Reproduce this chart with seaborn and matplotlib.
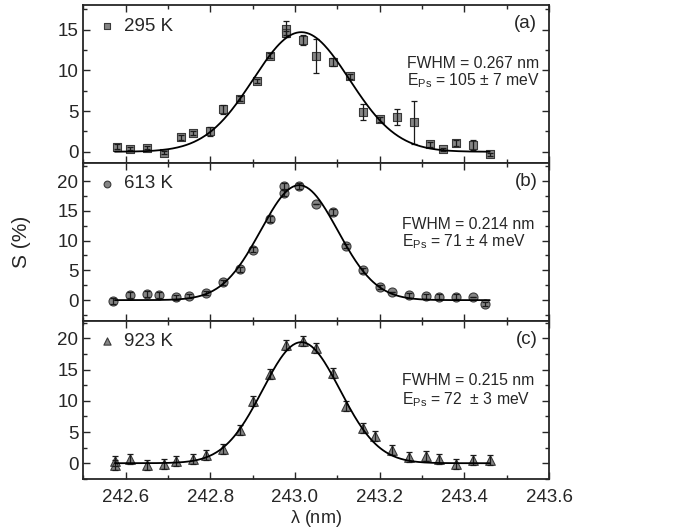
import numpy as np
import pandas as pd
import matplotlib
matplotlib.use("Agg")
import matplotlib.pyplot as plt
import seaborn as sns
from matplotlib.ticker import MultipleLocator

# Data
xa = [242.58, 242.61, 242.65, 242.69, 242.73, 242.76, 242.80, 242.83, 242.87, 242.91, 242.94, 242.98, 242.98,
      243.02, 243.05, 243.09, 243.13, 243.16, 243.20, 243.24, 243.28, 243.32, 243.35, 243.38, 243.42, 243.46]
ya = [0.6, 0.4, 0.5, -0.1, 1.8, 2.3, 2.5, 5.2, 6.5, 8.7, 11.8, 15.1, 14.6,
      13.7, 11.8, 11.0, 9.3, 4.85, 4.0, 4.3, 3.6, 0.9, 0.3, 1.1, 0.8, -0.3]
ea = [0.3, 0.2, 0.2, 0.2, 0.3, 0.2, 0.6, 0.5, 0.3, 0.3, 0.3, 1.0, 0.3,
      0.6, 2.1, 0.5, 0.3, 1.0, 0.3, 1.0, 2.7, 0.3, 0.2, 0.4, 0.6, 0.2]

xb = [242.57, 242.61, 242.65, 242.68, 242.72, 242.75, 242.79, 242.83, 242.87, 242.90, 242.94, 242.975, 242.975,
      243.01, 243.05, 243.09, 243.12, 243.16, 243.20, 243.23, 243.27, 243.31, 243.34, 243.38, 243.42, 243.45]
yb = [-0.1, 0.8, 1.0, 0.8, 0.45, 0.7, 1.2, 3.0, 5.2, 8.5, 13.7, 18.0, 19.2,
      19.1, 16.2, 14.8, 9.1, 5.0, 2.2, 1.4, 0.8, 0.65, 0.55, 0.6, 0.6, -0.65]
eb = [0.5, 0.5, 0.5, 0.5, 0.4, 0.4, 0.4, 0.4, 0.4, 0.5, 0.5, 0.5, 0.5,
      0.5, 0.0, 0.5, 0.4, 0.4, 0.4, 0.0, 0.4, 0.4, 0.4, 0.4, 0.0, 0.4]

xc = [242.575, 242.575, 242.61, 242.65, 242.69, 242.72, 242.76, 242.79, 242.83, 242.87, 242.90, 242.94, 242.98,
      243.02, 243.05, 243.09, 243.12, 243.16, 243.19, 243.23, 243.27, 243.31, 243.34, 243.38, 243.42, 243.46]
yc = [0.4, -0.3, 0.75, -0.3, -0.1, 0.3, 0.7, 1.25, 2.2, 5.25, 9.9, 14.3, 19.0,
      19.6, 18.4, 14.4, 9.1, 5.7, 4.3, 2.1, 1.0, 1.1, 0.65, -0.15, 0.45, 0.5]
ec = [0.8] * 26

# Gaussian fit parameters (centre, peak, FWHM)
fit_a = (243.015, 14.7, 0.267)
fit_b = (243.010, 19.3, 0.214)
fit_c = (243.015, 19.4, 0.215)

labels = ["295 K", "613 K", "923 K"]
tags = ["(a)", "(b)", "(c)"]
fwhm_txt = ["FWHM = 0.267 nm", "FWHM = 0.214 nm", "FWHM = 0.215 nm"]
eps_txt = [r"E$_{\mathregular{Ps}}$ = 105 $\pm$ 7 meV",
           r"E$_{\mathregular{Ps}}$ = 71 $\pm$ 4 meV",
           r"E$_{\mathregular{Ps}}$ = 72  $\pm$ 3 meV"]

sns.set_theme(style="ticks")
plt.rcParams["font.family"] = ["Liberation Sans", "DejaVu Sans"]
plt.rcParams["mathtext.fontset"] = "custom"
plt.rcParams["mathtext.rm"] = "Liberation Sans"
plt.rcParams["mathtext.default"] = "regular"

fig, axes = plt.subplots(3, 1, figsize=(6.82, 5.32), dpi=100, sharex=True)
fig.subplots_adjust(left=0.122, right=0.805, top=0.99, bottom=0.10, hspace=0)

panels = [(xa, ya, ea, fit_a, "s", (-1.4, 18), [0, 5, 10, 15], 38),
          (xb, yb, eb, fit_b, "o", (-3.5, 23), [0, 5, 10, 15, 20], 42),
          (xc, yc, ec, fit_c, "^", (-2.5, 22.8), [0, 5, 10, 15, 20], 48)]
text_y = [(0.63, 0.52), (0.61, 0.50), (0.62, 0.50)]
text_x = [0.695, 0.685, 0.685]

for i, (ax, (x, y, e, fit, mk, ylim, yt, ms)) in enumerate(zip(axes, panels)):
    df = pd.DataFrame({"x": x, "y": y, "e": e})
    c, amp, fw = fit
    sig = fw / (2 * np.sqrt(2 * np.log(2)))
    xf = np.linspace(242.575, 243.46, 300)
    fdf = pd.DataFrame({"x": xf, "y": amp * np.exp(-(xf - c) ** 2 / (2 * sig ** 2))})
    sns.scatterplot(data=df, x="x", y="y", marker=mk, s=ms, color="#858585",
                    edgecolor="#3a3a3a", linewidth=0.8, ax=ax, zorder=2, label=labels[i])
    ax.errorbar(df["x"], df["y"], yerr=df["e"], fmt="none", ecolor="#1a1a1a",
                elinewidth=0.9, capsize=2.5, capthick=0.9, zorder=3)
    sns.lineplot(data=fdf, x="x", y="y", color="black", linewidth=1.3, ax=ax, zorder=4, legend=False)
    ax.set_xlim(242.5, 243.6)
    ax.set_ylim(*ylim)
    ax.set_yticks(yt)
    ax.xaxis.set_major_locator(MultipleLocator(0.2))
    ax.xaxis.set_minor_locator(MultipleLocator(0.1))
    ax.yaxis.set_minor_locator(MultipleLocator(2.5))
    ax.tick_params(which="both", direction="in", top=True, right=True, labelsize=13.5)
    ax.tick_params(which="major", length=5, width=1)
    ax.tick_params(which="minor", length=3, width=1)
    ax.tick_params(axis="x", pad=7)
    for s in ax.spines.values():
        s.set_linewidth(1.3)
    ax.set_xlabel("")
    ax.set_ylabel("")
    ax.legend(loc="upper left", frameon=False, fontsize=13.5, handletextpad=0.3,
              handlelength=1.2, borderaxespad=0.25, markerscale=0.75)
    ax.text(0.975, 0.885, tags[i], transform=ax.transAxes, ha="right", va="center", fontsize=13.5)
    ax.text(text_x[i], text_y[i][0], fwhm_txt[i], transform=ax.transAxes,
            ha="left", va="center", fontsize=11.3)
    ax.text(text_x[i], text_y[i][1], eps_txt[i], transform=ax.transAxes,
            ha="left", va="center", fontsize=11.3)

axes[2].set_xticks([242.6, 242.8, 243.0, 243.2, 243.4, 243.6])
axes[2].set_xticklabels(["242.6", "242.8", "243.0", "243.2", "243.4", "243.6"])
axes[2].set_xlabel(r"$\lambda$ (nm)", fontsize=13, labelpad=2)
fig.text(0.032, 0.545, "S (%)", rotation=90, ha="center", va="center", fontsize=15)

fig.savefig("out.png", dpi=100)
